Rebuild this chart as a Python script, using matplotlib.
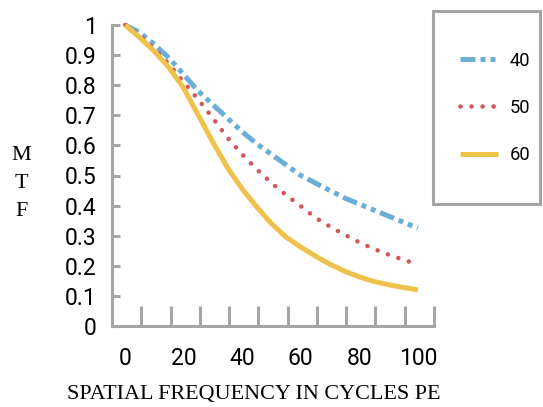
import matplotlib
matplotlib.use('Agg')
import matplotlib.pyplot as plt
from matplotlib.patches import Rectangle
import numpy as np

# spatial frequency samples and MTF
freq = [0, 5, 10, 15, 20, 25, 30, 35, 40, 45, 50,
        55, 60, 65, 70, 75, 80, 85, 90, 95, 100]
mtf_40 = [1.0, 0.975, 0.935, 0.89, 0.835, 0.78, 0.735, 0.69, 0.645, 0.605, 0.57,
          0.535, 0.50, 0.475, 0.45, 0.425, 0.405, 0.385, 0.365, 0.345, 0.325]
mtf_50 = [1.0, 0.965, 0.92, 0.87, 0.81, 0.752, 0.69, 0.625, 0.57, 0.52, 0.475,
          0.435, 0.398, 0.36, 0.33, 0.303, 0.278, 0.256, 0.237, 0.22, 0.205]
mtf_60 = [1.0, 0.958, 0.912, 0.858, 0.79, 0.70, 0.61, 0.525, 0.455, 0.395, 0.34,
          0.295, 0.262, 0.232, 0.205, 0.182, 0.163, 0.148, 0.137, 0.128, 0.12]
series_names = ["40", "50", "60"]
x_labels = ["0", "20", "40", "60", "80", "100"]
y_labels = ["0", "0.1", "0.2", "0.3", "0.4", "0.5", "0.6", "0.7", "0.8", "0.9", "1"]

grey = "#A6A6A6"
blue = "#6AAFD5"
red = "#D1575B"
yellow = "#EFC24B"

fig = plt.figure(figsize=(5.43, 4.07), dpi=100)
ax = fig.add_axes([112 / 543, 81 / 407, 322 / 543, 301 / 407])

l1, = ax.plot(freq, mtf_40, color=blue, lw=3.6, dashes=(3, 1, 1, 1, 1, 1),
              dash_capstyle="butt", clip_on=False)
l2, = ax.plot(freq, mtf_50, color=red, lw=3.3, dashes=(0.01, 2.4),
              dash_capstyle="round", clip_on=False)
l3, = ax.plot(freq, mtf_60, color=yellow, lw=3.6, clip_on=False,
              solid_capstyle="butt")

ax.set_xlim(-4.5, 105.5)
ax.set_ylim(0, 1)

for s in ["top", "right"]:
    ax.spines[s].set_visible(False)
for s in ["left", "bottom"]:
    ax.spines[s].set_color(grey)
    ax.spines[s].set_linewidth(2.2)

tick_font = dict(family="Roboto", size=16.5)
ax.set_xticks(np.arange(0, 101, 20))
ax.set_xticklabels(x_labels, **tick_font)
ax.set_xticks(np.arange(5.5, 106, 10), minor=True)
ax.tick_params(axis="x", which="major", length=0, pad=15)
ax.tick_params(axis="x", which="minor", direction="in", length=14.4,
               width=2.2, color=grey)

ax.set_yticks(np.arange(0, 1.01, 0.1))
ax.set_yticklabels(y_labels, **tick_font)
ax.tick_params(axis="y", direction="in", length=6, width=2.2, color=grey, pad=11)

serif = dict(family="Liberation Serif", size=15.9)
fig.text(254 / 543, 1 - 394 / 407, "SPATIAL FREQUENCY IN CYCLES PE",
         ha="center", va="center", **serif)
for letter, yy in zip("MTF", [155, 183, 212]):
    fig.text(21 / 543, 1 - yy / 407, letter, ha="center", va="center", **serif)

# legend box
fig.patches.append(Rectangle((433 / 543, 1 - 204 / 407), 107 / 543, 193 / 407,
                             transform=fig.transFigure, fill=False,
                             edgecolor=grey, lw=2.2))
fig.legend([l1, l2, l3], series_names, loc="upper left",
           bbox_to_anchor=(443 / 543, 1 - 35 / 407), frameon=False,
           prop=dict(family="Roboto", size=13.2),
           handlelength=2.1, handletextpad=0.65, labelspacing=1.6)

fig.savefig("out.png", dpi=100)
